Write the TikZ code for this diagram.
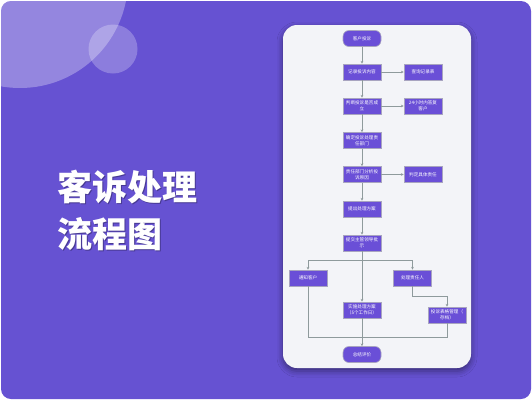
\documentclass[tikz,border=0pt]{standalone}
\usepackage{fontspec}
\newfontfamily\cjk{Noto Sans CJK SC}
\usetikzlibrary{shadows.blur,arrows.meta}
\definecolor{bgp}{HTML}{6652D2}
\definecolor{panelc}{HTML}{F3F4F8}
\definecolor{nodef}{HTML}{6A4FD7}
\definecolor{lnc}{HTML}{8E9A9C}
\definecolor{nodeb}{HTML}{A8A4C0}
\tikzset{
  box/.style={fill=nodef, draw=nodeb, line width=0.6pt, minimum width=38pt, minimum height=16pt,
    text=white, font=\cjk\fontsize{4.6}{5.8}\selectfont, align=center, inner sep=0pt},
  pill/.style={box, rounded corners=6pt},
  ln/.style={draw=lnc, line width=0.8pt},
  arr/.style={ln, -{Stealth[length=2.8pt,width=2.8pt]}},
  ttl/.style={font=\cjk\bfseries\fontsize{35}{47}\selectfont, anchor=base west, inner sep=0pt}
}
\begin{document}
\begin{tikzpicture}[x=1pt,y=-1pt]
\useasboundingbox (0,0) rectangle (532,400);
\fill[white] (0,0) rectangle (532,400);
\begin{scope}
  \path[clip, rounded corners=10pt] (1,1) rectangle (531,399);
  \fill[bgp] (0,0) rectangle (532,400);
  \fill[white, opacity=0.3] (20,-20) circle (108);
  \fill[white, opacity=0.25] (113,49) circle (24.5);
  \fill[panelc, rounded corners=14pt, blur shadow={shadow xshift=0pt, shadow yshift=-3pt, shadow blur radius=6pt, shadow opacity=45}] (283,25) rectangle (471,368);
\end{scope}
% title
\node[ttl, text=black, opacity=0.3] (t1s) at (58.5,201.5) {客诉处理};
\node[ttl, text=black, opacity=0.3] (t2s) at (58.5,248.5) {流程图};
\node[ttl, text=white] (t1) at (57,200) {客诉处理};
\node[ttl, text=white] (t2) at (57,247) {流程图};
% nodes
\node[pill] (s1) at (362,38.5) {客户投诉};
\node[box] (s2) at (362,72) {记录投诉内容};
\node[box] (r2) at (423,72) {查询记录表};
\node[box] (s3) at (362,106) {判断投诉是否成\\立};
\node[box] (r3) at (423,106) {24小时内答复\\客户};
\node[box] (s4) at (362,140.5) {确定投诉处理责\\任部门};
\node[box] (s5) at (362,174.5) {责任部门分析投\\诉原因};
\node[box] (r5) at (423,174.5) {判定具体责任};
\node[box] (s6) at (362,209) {提出处理方案};
\node[box] (s7) at (362,243) {提交主管领导批\\示};
\node[box] (nt) at (308,278) {通知客户};
\node[box] (rp) at (412.5,278) {处理责任人};
\node[box] (im) at (362,310) {实施处理方案\\（5个工作日）};
\node[box] (ar) at (447,315) {投诉表格管理（\\存档）};
\node[pill] (en) at (362,354.5) {总结评价};
% connectors
\draw[arr] (s1) -- (s2);
\draw[arr] (s2) -- (r2);
\draw[arr] (s2) -- (s3);
\draw[arr] (s3) -- (r3);
\draw[arr] (s3) -- (s4);
\draw[arr] (s4) -- (s5);
\draw[arr] (s5) -- (r5);
\draw[arr] (s5) -- (s6);
\draw[arr] (s6) -- (s7);
\draw[arr] (s7) -- (im);
\coordinate (br) at (362,260);
\draw[arr] (br) -| (nt);
\draw[arr] (br) -| (rp);
\coordinate (k1) at (412.5,296);
\draw[arr] (rp) -- (k1) -| (ar);
\coordinate (k2) at (308,337);
\draw[ln] (nt) -- (k2) -| (ar);
\draw[arr] (im) -- (en);
\end{tikzpicture}
\end{document}
